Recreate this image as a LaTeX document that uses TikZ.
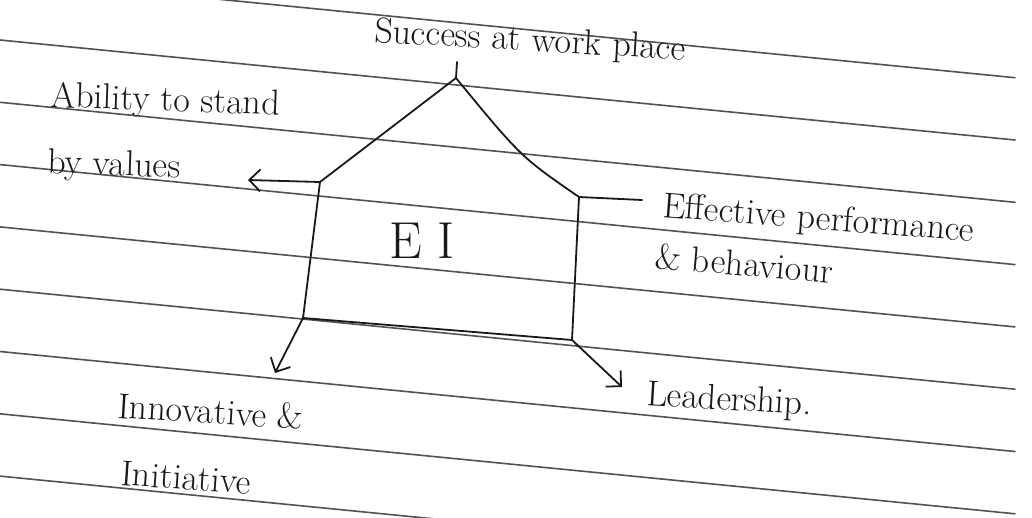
\documentclass[tikz,border=0pt]{standalone}
\usetikzlibrary{arrows.meta}
\begin{document}
\begin{tikzpicture}[
  x={(1pt,0pt)},
  y={(0pt,-1pt)},
  line join=round,
  line cap=round,
  ruled/.style={draw=black!68,line width=1.6pt},
  ink/.style={draw=black!90,line width=1.8pt},
  barb/.style={ink,-{Straight Barb[length=11pt,width=22pt]}},
  note/.style={anchor=base west,inner sep=0pt,text=black!90,font=\fontsize{36}{40}\selectfont}
]
  \useasboundingbox (0,0) rectangle (1032,517);
  \fill[white] (0,0) rectangle (1032,517);

  % Ruled lines of the page.
  \begin{scope}
    \clip (0,0) rectangle (1032,517);
    \foreach \k in {-1,...,7} {
      \draw[ruled] (0,40+62.3*\k) -- (1015,140+62.3*\k);
    }
  \end{scope}

  % Corners of the house.
  \coordinate (apex) at (456,78);
  \coordinate (eaveL) at (320,182);
  \coordinate (eaveR) at (579,197);
  \coordinate (baseL) at (303,318);
  \coordinate (baseR) at (572,340);

  % Free ends of the short strokes.
  \coordinate (tick) at (457,62);
  \coordinate (toValues) at (248,180);
  \coordinate (toEffective) at (642,200);
  \coordinate (toInnovative) at (275,373);
  \coordinate (toLeadership) at (622,387);

  % Labels.
  \node[note,rotate=-3.3] (success) at (374,42) {Success at work place};
  \node[note,rotate=-2] (ability) at (50,107) {Ability to stand};
  \node[note,rotate=-2] (values) at (47,173) {by values};
  \node[note,rotate=-4.5] (effective) at (662,217) {Effective performance};
  \node[note,rotate=-5] (behaviour) at (654,268) {\& behaviour};
  \node[note,rotate=-3.5] (leadership) at (646,405) {Leadership.};
  \node[note,rotate=-3.5] (innovative) at (117,418) {Innovative \&};
  \node[note,rotate=-4] (initiative) at (120,485) {Initiative};
  \node[inner sep=0pt,text=black!90,font=\fontsize{52}{56}\selectfont] (ei) at (422,241) {E I};

  % House.
  \draw[ink] (apex) -- (eaveL) -- (baseL) -- (baseR) -- (eaveR) .. controls (521,157) .. (apex);

  % Strokes out to the labels.
  \draw[ink] (apex) -- (tick);
  \draw[barb] (eaveL) -- (toValues);
  \draw[ink] (eaveR) -- (toEffective);
  \draw[barb] (baseL) -- (toInnovative);
  \draw[barb] (baseR) -- (toLeadership);
\end{tikzpicture}
\end{document}
